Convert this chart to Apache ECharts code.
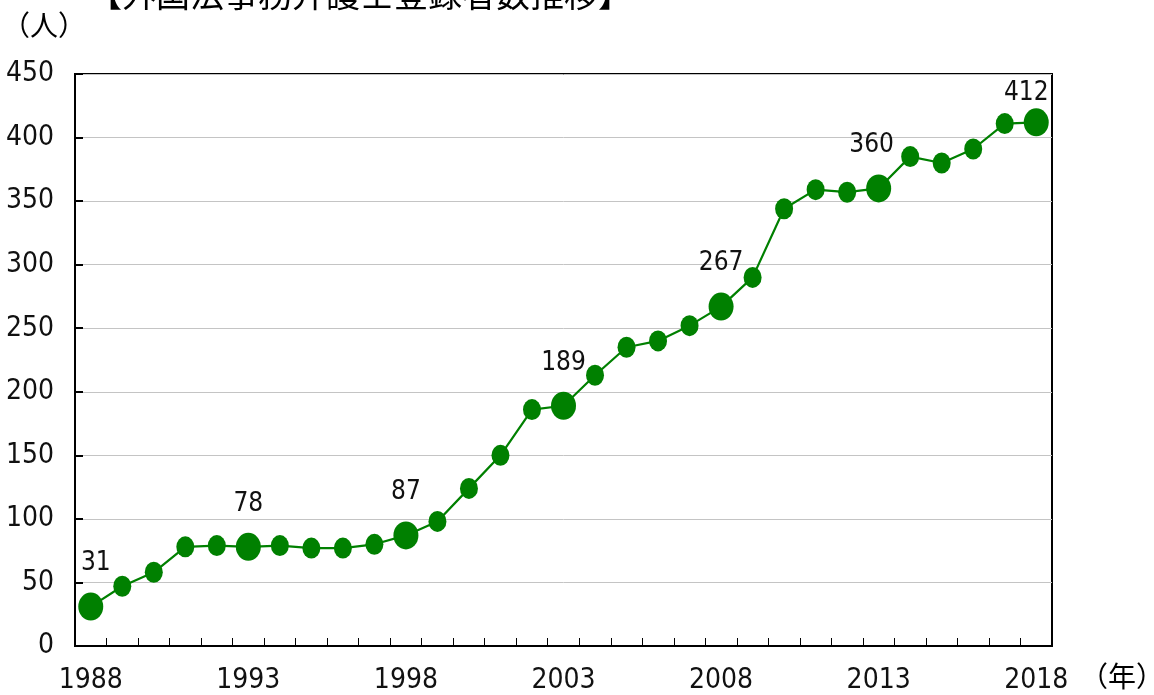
<!DOCTYPE html>
<html><head><meta charset="utf-8">
<script src="https://cdn.jsdelivr.net/npm/echarts@6/dist/echarts.min.js"></script>
<style>html,body{margin:0;padding:0;background:#fff;}#c{width:1154px;height:695px;}</style>
</head><body><div id="c"></div>
<script>
var years = ['1988','1989','1990','1991','1992','1993','1994','1995','1996','1997','1998','1999','2000','2001','2002','2003','2004','2005','2006','2007','2008','2009','2010','2011','2012','2013','2014','2015','2016','2017','2018'];
var counts = [31,47,58,78,79,78,79,77,77,80,87,98,124,150,186,189,213,235,240,252,267,290,344,359,357,360,385,380,391,411,412];
var labeledYears = ['1988','1993','1998','2003','2008','2013','2018'];
var yTicks = [0,50,100,150,200,250,300,350,400,450];

var numFont = '"DejaVu Sans","Liberation Sans",sans-serif';
var numWeight = 'normal condensed';
var labelOffsets = {'1988':[5,0],'2013':[-7,0],'2018':[-10,14]};
var data = counts.map(function(v,i){
  var y = years[i];
  var big = labeledYears.indexOf(y) >= 0;
  var d = {value: v, symbolSize: big ? [25,28] : [18,21]};
  if (big) {
    d.label = {show: true, position: 'top', distance: 16, offset: labelOffsets[y] || [0,0],
      formatter: '{c}', color: '#111', fontSize: 26, fontFamily: numFont, fontWeight: numWeight};
  }
  return d;
});

var chart = echarts.init(document.getElementById('c'), null, {renderer:'canvas'});
chart.setOption({
  animation: false,
  backgroundColor: '#fff',
  grid: {left: 75, right: 102, top: 74, bottom: 49, show: true, borderColor: '#000', borderWidth: 2, backgroundColor: 'transparent'},
  graphic: [
    {type:'text', left: 88, top: -23, style:{text:'【外国法事務弁護士登録者数推移】', fontSize: 34, fill:'#000', fontFamily:'"Noto Sans CJK JP",sans-serif'}},
    {type:'text', left: 2, top: 11, style:{text:'（人）', fontSize: 28, fill:'#000', fontFamily:'"Noto Sans CJK JP",sans-serif'}},
    {type:'text', left: 1080, top: 662, style:{text:'（年）', fontSize: 28, fill:'#000', fontFamily:'"Noto Sans CJK JP",sans-serif'}}
  ],
  xAxis: {
    type: 'category', data: years, boundaryGap: true,
    axisLine: {lineStyle: {color: '#000', width: 2}},
    axisTick: {show: true, inside: true, length: 8, interval: 0, lineStyle: {color: '#000', width: 1}},
    axisLabel: {interval: 4, color: '#111', fontSize: 28, fontFamily: numFont, fontWeight: numWeight, margin: 21},
    splitLine: {show: false}
  },
  yAxis: {
    type: 'value', min: yTicks[0], max: yTicks[yTicks.length-1], interval: 50,
    axisLine: {show: true, lineStyle: {color: '#000', width: 2}},
    axisTick: {show: true, inside: true, length: 8, lineStyle: {color: '#000', width: 2}},
    axisLabel: {color: '#111', fontSize: 28, fontFamily: numFont, fontWeight: numWeight, margin: 21},
    splitLine: {show: true, lineStyle: {color: '#c4c4c4', width: 1}}
  },
  series: [{
    type: 'line', data: data, symbol: 'circle', showAllSymbol: true,
    lineStyle: {color: '#008000', width: 2.2},
    itemStyle: {color: '#008000'},
    z: 3
  }]
});
</script></body></html>
